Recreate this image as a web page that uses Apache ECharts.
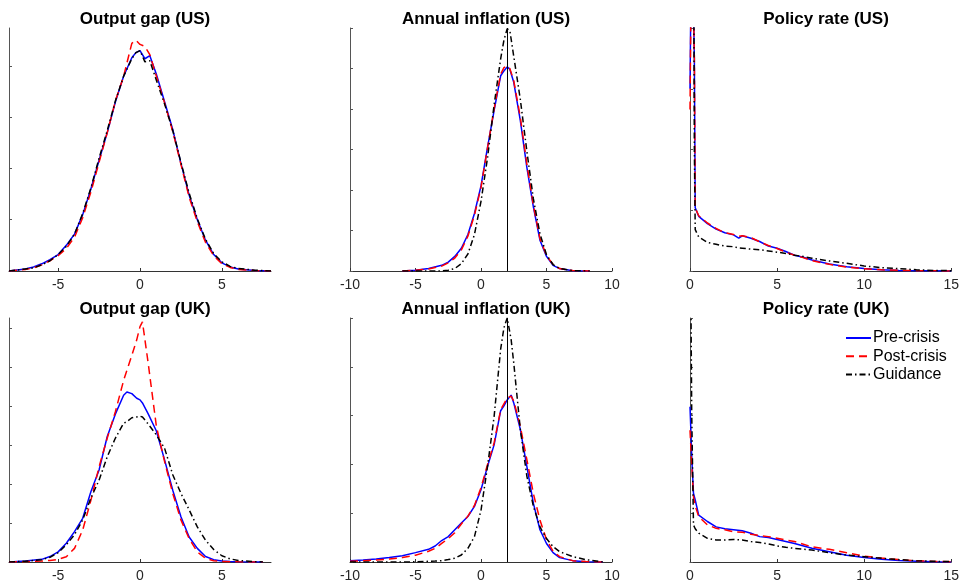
<!DOCTYPE html>
<html>
<head>
<meta charset="utf-8">
<script src="https://cdn.jsdelivr.net/npm/echarts@6/dist/echarts.min.js"></script>
<style>
html,body{margin:0;padding:0;background:#fff;}
#main{width:962px;height:586px;}
</style>
</head>
<body>
<div id="main"></div>
<script>
// panel titles and legend names
var titles = ['Output gap (US)', 'Annual inflation (US)', 'Policy rate (US)',
              'Output gap (UK)', 'Annual inflation (UK)', 'Policy rate (UK)'];
var seriesNames = ['Pre-crisis', 'Post-crisis', 'Guidance'];

// x tick labels
var gapTicks = [-5, 0, 5];
var inflTicks = [-10, -5, 0, 5, 10];
var rateTicks = [0, 5, 10, 15];

// output gap (US)
var gapUsX     = [-8,-7,-6.5,-6,-5.5,-5,-4.5,-4,-3.5,-3,-2.5,-2,-1.5,-1,-0.5,-0.25,0,0.3,0.6,1,1.5,2,2.5,3,3.5,4,4.5,5,5.5,6,7,8];
var gapUsPre   = [0,0.002,0.004,0.007,0.011,0.016,0.025,0.036,0.055,0.08,0.108,0.135,0.165,0.19,0.208,0.213,0.215,0.207,0.21,0.192,0.165,0.138,0.105,0.074,0.05,0.03,0.016,0.008,0.004,0.002,0.0005,0];
var gapUsPost  = [0,0.0015,0.003,0.006,0.01,0.015,0.022,0.033,0.052,0.077,0.106,0.135,0.166,0.19,0.222,0.225,0.221,0.219,0.211,0.19,0.164,0.136,0.104,0.072,0.048,0.028,0.015,0.007,0.0035,0.0015,0.0005,0];
var gapUsGuide = [0,0.002,0.003,0.006,0.01,0.016,0.024,0.036,0.056,0.081,0.11,0.137,0.166,0.19,0.207,0.213,0.215,0.204,0.205,0.186,0.163,0.137,0.106,0.076,0.051,0.031,0.017,0.009,0.0045,0.0025,0.0008,0];

// annual inflation (US)
var inflUsX     = [-6,-5,-4,-3,-2.5,-2,-1.5,-1,-0.5,0,0.5,1,1.5,1.75,2,2.2,2.5,3,3.5,4,4.5,5,5.5,6,7,8.3];
var inflUsPre   = [0,0.001,0.003,0.007,0.011,0.018,0.028,0.045,0.071,0.105,0.153,0.198,0.241,0.247,0.252,0.249,0.233,0.186,0.128,0.079,0.038,0.018,0.007,0.003,0.0004,0];
var inflUsPost  = [0,0.001,0.0025,0.006,0.01,0.016,0.026,0.043,0.069,0.103,0.152,0.2,0.243,0.251,0.253,0.25,0.235,0.19,0.132,0.081,0.04,0.019,0.008,0.003,0.0005,0];
var inflUsGuide = [0,0,0,0,0.001,0.003,0.009,0.021,0.045,0.086,0.14,0.205,0.262,0.285,0.299,0.297,0.265,0.212,0.148,0.089,0.046,0.02,0.008,0.003,0.0005,0];

// policy rate (US)
var rateUsX     = [0,0.05,0.1,0.2,0.25,0.3,0.5,1,1.5,2,2.5,2.8,3,3.5,4,4.5,5,5.5,6,6.5,7,8,9,10,11,12,13,14,15];
var rateUsPre   = [0.3,0.45,0.6,0.6,0.35,0.104,0.09,0.078,0.069,0.063,0.0595,0.054,0.058,0.054,0.0485,0.041,0.0375,0.032,0.026,0.0226,0.018,0.0116,0.007,0.004,0.002,0.001,0.0006,0.0003,0];
var rateUsPost  = [0.266,0.42,0.6,0.6,0.35,0.104,0.091,0.079,0.07,0.063,0.06,0.057,0.058,0.055,0.048,0.042,0.037,0.031,0.026,0.022,0.017,0.011,0.0065,0.0035,0.002,0.001,0.0006,0.0003,0];
var rateUsGuide = [0.6,0.6,0.6,0.6,0.2,0.068,0.056,0.047,0.044,0.041,0.04,0.038,0.0375,0.036,0.035,0.033,0.031,0.029,0.026,0.024,0.021,0.0165,0.0127,0.0083,0.0055,0.0039,0.002,0.001,0.0005];

// output gap (UK)
var gapUkX     = [-8,-7,-6,-5.5,-5,-4.5,-4,-3.5,-3,-2.5,-2,-1.5,-1,-0.8,-0.5,-0.2,0,0.15,0.5,1,1.5,2,2.5,3,3.5,4,4.5,5,5.5,6,7,7.5];
var gapUkPre   = [0,0.0013,0.0034,0.007,0.013,0.024,0.039,0.056,0.09,0.118,0.161,0.19,0.214,0.218,0.216,0.21,0.208,0.204,0.19,0.168,0.131,0.092,0.058,0.032,0.0175,0.007,0.003,0.0012,0.0006,0.0004,0.0001,0];
var gapUkPost  = [0,0.0005,0.0013,0.002,0.0034,0.0068,0.0175,0.041,0.079,0.122,0.159,0.193,0.233,0.246,0.265,0.285,0.302,0.308,0.255,0.174,0.129,0.088,0.054,0.03,0.013,0.0047,0.0017,0.0008,0.0004,0.0002,0,0];
var gapUkGuide = [0,0.001,0.003,0.006,0.012,0.022,0.035,0.054,0.082,0.105,0.135,0.159,0.178,0.18,0.185,0.186,0.187,0.186,0.177,0.163,0.146,0.112,0.088,0.067,0.045,0.028,0.016,0.008,0.004,0.002,0.0005,0];

// annual inflation (UK)
var inflUkX     = [-10,-9,-8,-7,-6,-5,-4,-3.5,-3,-2.5,-2,-1.5,-1,-0.5,0,0.5,1,1.5,1.75,2,2.3,2.5,3,3.5,4,4.5,5,5.5,6,7,8,9,9.3];
var inflUkPre   = [0.0014,0.002,0.003,0.0045,0.0065,0.0096,0.013,0.0164,0.022,0.026,0.033,0.04,0.0466,0.057,0.074,0.098,0.12,0.155,0.16,0.166,0.171,0.163,0.136,0.098,0.06,0.033,0.019,0.0096,0.0045,0.0014,0.0003,0,0];
var inflUkPost  = [0.0008,0.0012,0.002,0.003,0.0045,0.007,0.011,0.014,0.019,0.024,0.03,0.039,0.047,0.058,0.076,0.1,0.122,0.156,0.162,0.168,0.17,0.165,0.139,0.105,0.07,0.043,0.023,0.011,0.0055,0.0014,0.0004,0,0];
var inflUkGuide = [0,0,0,0,0,0.0002,0.0007,0.001,0.0014,0.0025,0.0038,0.0072,0.014,0.026,0.053,0.098,0.149,0.218,0.24,0.25,0.228,0.204,0.136,0.088,0.057,0.036,0.024,0.0158,0.0106,0.0055,0.0024,0.0007,0];

// policy rate (UK)
var rateUkX     = [0,0.05,0.1,0.2,0.3,0.5,1,1.5,2,2.5,3,3.5,4,4.5,5,5.5,6,7,8,9,10,11,12,13,14,15];
var rateUkPre   = [0.318,0.27,0.216,0.141,0.127,0.096,0.083,0.072,0.068,0.066,0.064,0.059,0.052,0.05,0.046,0.042,0.038,0.028,0.021,0.014,0.009,0.0055,0.003,0.0015,0.0007,0.0002];
var rateUkPost  = [0.27,0.235,0.2,0.134,0.115,0.093,0.076,0.069,0.066,0.062,0.061,0.057,0.054,0.052,0.0485,0.045,0.042,0.031,0.026,0.019,0.012,0.008,0.0048,0.0025,0.0012,0.0005];
var rateUkGuide = [0.6,0.55,0.3,0.076,0.068,0.059,0.0485,0.045,0.045,0.046,0.045,0.042,0.04,0.037,0.033,0.03,0.028,0.0246,0.019,0.014,0.011,0.0075,0.0048,0.0027,0.0015,0.0007];

// y ticks (no labels drawn)
var yTicksGapUs  = [0, 0.05, 0.1, 0.15, 0.2];
var yTicksInflUs = [0, 0.05, 0.1, 0.15, 0.2, 0.25, 0.3];
var yTicksRateUs = [0, 0.1, 0.2, 0.3, 0.4];
var yTicksGapUk  = [0, 0.05, 0.1, 0.15, 0.2, 0.25, 0.3];
var yTicksInflUk = [0, 0.05, 0.1, 0.15, 0.2, 0.25];
var yTicksRateUk = [0, 0.1, 0.2, 0.3, 0.4, 0.5];

var panels = [
    {x: gapUsX,  s: [gapUsPre,  gapUsPost,  gapUsGuide],  xmin: -8,  xmax: 8,  xt: gapTicks,  ymax: 0.237, yt: yTicksGapUs},
    {x: inflUsX, s: [inflUsPre, inflUsPost, inflUsGuide], xmin: -10, xmax: 10, xt: inflTicks, ymax: 0.3,   yt: yTicksInflUs, vline: 2},
    {x: rateUsX, s: [rateUsPre, rateUsPost, rateUsGuide], xmin: 0,   xmax: 15, xt: rateTicks, ymax: 0.4,   yt: yTicksRateUs},
    {x: gapUkX,  s: [gapUkPre,  gapUkPost,  gapUkGuide],  xmin: -8,  xmax: 8,  xt: gapTicks,  ymax: 0.313, yt: yTicksGapUk},
    {x: inflUkX, s: [inflUkPre, inflUkPost, inflUkGuide], xmin: -10, xmax: 10, xt: inflTicks, ymax: 0.25,  yt: yTicksInflUk, vline: 2},
    {x: rateUkX, s: [rateUkPre, rateUkPost, rateUkGuide], xmin: 0,   xmax: 15, xt: rateTicks, ymax: 0.5,   yt: yTicksRateUk}
];

var colLeft = [9, 350, 690];
var rowTop = [28, 318];
var rowH = [243, 244];
var lineColors = ['#0000ff', '#ff0000', '#000000'];
var lineTypes = ['solid', [8, 5], [6, 3, 1.5, 3]];

function pairs(xs, ys){
    return xs.map(function(x, i){ return [x, ys[i]]; });
}

var grids = [], xAxes = [], yAxes = [], series = [], titleArr = [];
panels.forEach(function(p, k){
    var c = k % 3, r = Math.floor(k / 3);
    grids.push({left: colLeft[c], top: rowTop[r], width: 262, height: rowH[r]});
    titleArr.push({
        text: titles[k],
        left: colLeft[c] + 131,
        top: r == 0 ? 6 : 296,
        textAlign: 'center',
        textStyle: {fontFamily: 'Liberation Sans, Arial', fontWeight: 'bold', fontSize: 17, color: '#000'}
    });
    xAxes.push({
        type: 'value', gridIndex: k, min: p.xmin, max: p.xmax,
        axisLine: {show: true, onZero: false, lineStyle: {color: '#333', width: 1}},
        axisTick: {show: true, inside: true, length: 3, customValues: p.xt, lineStyle: {color: '#333'}},
        axisLabel: {customValues: p.xt, color: '#262626', fontSize: 14, fontFamily: 'Liberation Sans, Arial', margin: 7},
        splitLine: {show: false}
    });
    yAxes.push({
        type: 'value', gridIndex: k, min: 0, max: p.ymax,
        axisLine: {show: true, onZero: false, lineStyle: {color: '#555', width: 1}},
        axisTick: {show: true, inside: true, length: 3, customValues: p.yt, lineStyle: {color: '#555'}},
        axisLabel: {show: false},
        splitLine: {show: false}
    });
    for(var j = 0; j < 3; j++){
        var s = {
            name: seriesNames[j],
            type: 'line',
            xAxisIndex: k, yAxisIndex: k,
            data: pairs(p.x, p.s[j]),
            symbol: 'none', showSymbol: false,
            lineStyle: {color: lineColors[j], width: 1.5, type: lineTypes[j]},
            itemStyle: {color: lineColors[j]},
            clip: true,
            z: 2 + j
        };
        if(p.vline != null && j == 0){
            s.markLine = {
                silent: true, symbol: ['none', 'none'],
                label: {show: false},
                lineStyle: {color: '#000', width: 1, type: 'solid'},
                data: [{xAxis: p.vline}]
            };
        }
        series.push(s);
    }
});

var myChart = echarts.init(document.getElementById('main'));
var option = {
    animation: false,
    backgroundColor: '#fff',
    title: titleArr,
    legend: {
        data: seriesNames,
        orient: 'vertical',
        left: 845, top: 330,
        itemWidth: 25, itemHeight: 14, itemGap: 2.3,
        itemStyle: {opacity: 0},
        textStyle: {fontSize: 16, fontFamily: 'Liberation Sans, Arial', color: '#000', padding: [0, 0, 0, -3]},
        padding: 0
    },
    grid: grids,
    xAxis: xAxes,
    yAxis: yAxes,
    series: series
};
myChart.setOption(option);
</script>
</body>
</html>
